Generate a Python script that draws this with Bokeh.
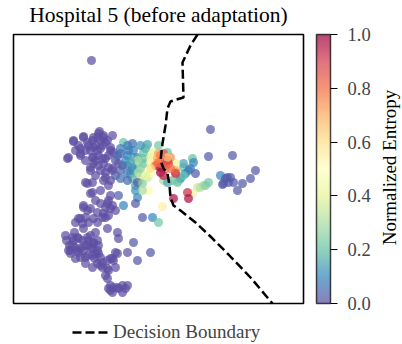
import numpy as np
from bokeh.plotting import figure
from bokeh.models import (Range1d, ColumnDataSource, LinearColorMapper, ColorBar, BoxAnnotation,
                          FixedTicker, PrintfTickFormatter, Label, Legend, LegendItem)
from bokeh.embed import file_html
from bokeh.resources import INLINE

SERIF = "Liberation Serif"

# ---- data (embedding coordinates, entropy) ----
upper_cluster = [
    (91, 60, 0.0),
    (99, 131, 0.0), (98, 133, 0.0), (103, 135, 0.0), (83, 136, 0.0), (93, 137, 0.0), (83, 137, 0.0), (97, 137, 0.0), (103, 137, 0.0),
    (73, 140, 0.0), (92, 140, 0.0), (107, 140, 0.0), (100, 140, 0.0), (73, 141, 0.0), (87, 142, 0.0), (105, 142, 0.0),
    (78, 145, 0.0), (88, 145, 0.0), (95, 145, 0.0), (102, 145, 0.0), (93, 147, 0.0), (80, 148, 0.0), (100, 148, 0.0), (110, 147, 0.0),
    (90, 150, 0.0), (97, 150, 0.0), (110, 150, 0.0), (113, 152, 0.0), (80, 153, 0.0), (120, 153, 0.02),
    (67, 158, 0.0), (68, 157, 0.0), (80, 155, 0.0), (92, 157, 0.0), (98, 155, 0.0), (93, 157, 0.0), (102, 158, 0.0), (105, 158, 0.0),
    (90, 167, 0.0), (98, 165, 0.0), (108, 167, 0.0), (118, 163, 0.02), (122, 165, 0.03), (93, 163, 0.0), (103, 163, 0.0),
    (90, 170, 0.0), (105, 172, 0.0), (112, 170, 0.0), (120, 170, 0.03), (112, 168, 0.0), (127, 165, 0.05),
    (85, 182, 0.0), (92, 182, 0.0), (103, 180, 0.0), (110, 180, 0.0), (108, 185, 0.0), (105, 177, 0.0), (87, 183, 0.0),
    (92, 192, 0.0), (90, 193, 0.0), (110, 195, 0.0), (118, 195, 0.03), (108, 200, 0.0), (100, 203, 0.0), (105, 207, 0.0), (112, 205, 0.0),
    (83, 207, 0.0), (90, 208, 0.0), (107, 203, 0.0), (83, 205, 0.0), (87, 210, 0.0), (103, 213, 0.0), (110, 208, 0.0),
    (78, 218, 0.0), (85, 217, 0.0), (93, 218, 0.0), (102, 217, 0.0), (108, 215, 0.0), (75, 222, 0.0), (80, 218, 0.0), (88, 222, 0.0), (97, 222, 0.0),
    (83, 228, 0.0), (107, 228, 0.0), (117, 232, 0.0), (118, 238, 0.0), (82, 223, 0.0), (105, 217, 0.0),
    (75, 150, 0.0), (85, 150, 0.0), (95, 160, 0.0), (85, 160, 0.0), (100, 170, 0.0), (95, 175, 0.0), (115, 160, 0.01),
    (115, 175, 0.02), (100, 190, 0.0), (95, 200, 0.0), (115, 210, 0.0), (97, 212, 0.0), (112, 135, 0.0), (108, 155, 0.0),
]

lower_cluster = [
    (72, 237, 0.0), (77, 237, 0.0), (82, 240, 0.0), (90, 235, 0.0), (97, 240, 0.0), (87, 245, 0.0), (93, 243, 0.0), (68, 250, 0.0), (75, 247, 0.0), (80, 248, 0.0),
    (92, 248, 0.0), (98, 245, 0.0), (70, 253, 0.0), (80, 257, 0.0), (87, 255, 0.0), (95, 253, 0.0), (100, 257, 0.0), (115, 252, 0.0), (127, 252, 0.0), (107, 260, 0.0),
    (85, 263, 0.0), (92, 267, 0.0), (100, 265, 0.0), (110, 258, 0.0), (113, 260, 0.0), (107, 268, 0.0), (115, 267, 0.0), (105, 275, 0.0), (107, 278, 0.0),
    (110, 285, 0.0), (117, 287, 0.0), (122, 285, 0.0), (127, 285, 0.0), (110, 290, 0.0), (118, 288, 0.0), (125, 288, 0.0), (73, 240, 0.0), (78, 238, 0.0),
    (87, 237, 0.0), (93, 242, 0.0), (70, 250, 0.0), (77, 250, 0.0), (83, 250, 0.0), (90, 247, 0.0), (75, 258, 0.0), (85, 257, 0.0), (92, 255, 0.0), (98, 253, 0.0),
    (112, 258, 0.0), (117, 253, 0.0), (97, 263, 0.0), (102, 267, 0.0), (108, 270, 0.0), (112, 292, 0.0), (122, 292, 0.0), (113, 287, 0.0), (108, 288, 0.0),
    (133, 242, 0.02), (137, 260, 0.02), (150, 252, 0.02), (69, 245, 0.0), (66, 240, 0.0), (74, 232, 0.0), (95, 232, 0.0),
    (65, 235, 0.0), (72, 245, 0.0), (78, 252, 0.0), (84, 245, 0.0), (88, 240, 0.0), (94, 258, 0.0), (102, 262, 0.0), (97, 250, 0.0),
]

right_group = [
    (210, 129, 0.02), (208, 156, 0.02), (232, 155, 0.02), (220, 175, 0.1), (225, 178, 0.02), (230, 177, 0.02), (223, 183, 0.02),
    (228, 182, 0.02), (233, 182, 0.02), (242, 183, 0.02), (250, 178, 0.02), (255, 170, 0.02), (237, 190, 0.02), (222, 184, 0.02), (227, 177, 0.02),
]

mixed_zone = [
    (123, 142, 0.2), (132, 143, 0.05), (127, 145, 0.08), (147, 144, 0.15), (158, 145, 0.22), (117, 155, 0.05), (127, 155, 0.1),
    (133, 157, 0.15), (137, 157, 0.12), (143, 158, 0.2), (150, 157, 0.38), (155, 155, 0.45), (120, 148, 0.08), (133, 150, 0.1),
    (143, 152, 0.2), (152, 152, 0.42), (137, 163, 0.22), (132, 167, 0.1), (130, 173, 0.15), (137, 173, 0.28), (133, 170, 0.12),
    (127, 173, 0.08), (120, 178, 0.06), (132, 178, 0.18), (140, 180, 0.35), (127, 180, 0.05), (135, 185, 0.15), (137, 182, 0.02),
    (142, 183, 0.25), (138, 172, 0.32), (147, 170, 0.5), (147, 177, 0.35), (152, 173, 0.48), (148, 190, 0.52), (143, 163, 0.2),
    (137, 160, 0.3), (137, 197, 0.1), (135, 203, 0.02), (123, 205, 0.1), (142, 217, 0.02), (152, 217, 0.1), (158, 222, 0.22),
    (167, 152, 0.2), (163, 180, 0.3), (167, 182, 0.15), (172, 180, 0.2), (178, 180, 0.3), (183, 167, 0.2), (188, 170, 0.08),
    (195, 173, 0.02), (185, 173, 0.1), (180, 178, 0.1), (177, 182, 0.2), (183, 175, 0.2), (192, 158, 0.2), (193, 162, 0.1),
    (183, 163, 0.15), (190, 168, 0.08), (197, 187, 0.35), (200, 187, 0.32), (203, 185, 0.3), (205, 185, 0.25), (208, 182, 0.22),
    (192, 193, 0.55), (162, 206, 0.55), (175, 163, 0.42),
    (128, 150, 0.08), (125, 160, 0.1), (130, 162, 0.15), (140, 168, 0.25), (145, 175, 0.4), (150, 162, 0.45), (153, 160, 0.55),
    (145, 148, 0.18), (140, 145, 0.12), (135, 190, 0.12), (142, 190, 0.3),
]

high_entropy = [
    (157, 165, 0.75), (158, 153, 0.72), (163, 153, 0.85), (170, 157, 0.75), (167, 160, 0.9), (162, 160, 0.92), (157, 158, 0.7),
    (155, 165, 0.82), (160, 167, 0.95), (165, 168, 0.75), (175, 172, 0.88), (168, 163, 0.9), (167, 157, 0.65), (150, 168, 0.6),
    (158, 162, 0.8), (173, 198, 0.97), (187, 192, 0.92), (188, 198, 0.97), (175, 170, 0.7), (175, 173, 0.9), (160, 172, 1.0), (163, 175, 0.95),
    (165, 165, 0.85), (170, 168, 0.8), (160, 155, 0.78),
]

boundary_x = [197, 190, 182, 183, 176, 170, 167, 165, 162, 160, 163, 167, 169, 170, 173, 180, 195, 210, 228, 250, 272]
boundary_y = [34, 45, 62, 97, 99, 101, 108, 125, 143, 160, 168, 173, 185, 197, 205, 210, 222, 236, 254, 277, 303]

# embedding-space box shown by the axes frame
box_left, box_right, box_top, box_bottom = 13, 303, 34, 303

cbar_ticks = [0.0, 0.2, 0.4, 0.6, 0.8, 1.0]
spectral_r = ["#5e4fa2", "#3288bd", "#66c2a5", "#abdda4", "#e6f598", "#ffffbf",
              "#fee08b", "#fdae61", "#f46d43", "#d53e4f", "#9e0142"]

# ---- palette (linear interpolation, as matplotlib) ----
def build_palette(stops, n=256):
    rgb = np.array([[int(c[i:i + 2], 16) for i in (1, 3, 5)] for c in stops], dtype=float)
    pos = np.linspace(0, 1, len(stops))
    t = np.linspace(0, 1, n)
    out = np.stack([np.interp(t, pos, rgb[:, k]) for k in range(3)], axis=1)
    return ["#%02x%02x%02x" % tuple(int(round(v)) for v in row) for row in out]

palette = build_palette(spectral_r)
mapper = LinearColorMapper(palette=palette, low=0.0, high=1.0)

pts = upper_cluster + lower_cluster + right_group + mixed_zone + high_entropy
src = ColumnDataSource(dict(x=[q[0] for q in pts], y=[q[1] for q in pts], e=[q[2] for q in pts]))

W, H = 402, 344
p = figure(width=W, height=H, output_backend="svg", toolbar_location=None,
           x_range=Range1d(0, W), y_range=Range1d(H, 0),
           min_border=0)
p.xaxis.visible = False
p.yaxis.visible = False
p.grid.visible = False
p.outline_line_color = None
p.background_fill_color = "white"
p.border_fill_color = "white"

p.add_layout(BoxAnnotation(left=box_left, right=box_right, top=box_top, bottom=box_bottom,
                           fill_alpha=0, line_color="black", line_alpha=1.0, line_width=1.6,
                           level="overlay"))

p.scatter("x", "y", source=src, size=9, fill_color={"field": "e", "transform": mapper},
          fill_alpha=0.72, line_color=None)

bl = p.line(boundary_x, boundary_y, line_color="black", line_width=2.5, line_dash="9 4")

legend = Legend(items=[LegendItem(label="Decision Boundary", renderers=[bl])],
                location=(72, 1), orientation="horizontal",
                label_text_font=SERIF, label_text_font_size="19px",
                glyph_width=36, glyph_height=20, label_height=20, label_standoff=5, padding=0, margin=0,
                border_line_alpha=0, background_fill_alpha=0)
p.add_layout(legend, "center")

cb = ColorBar(color_mapper=mapper, location=(316, H - box_bottom), width=14, height=box_bottom - box_top,
              padding=0, margin=0, scale_alpha=0.72,
              ticker=FixedTicker(ticks=cbar_ticks), formatter=PrintfTickFormatter(format="%.1f"),
              major_tick_in=0, major_tick_out=7, major_tick_line_color="black", major_tick_line_width=1.2,
              minor_tick_line_color=None, label_standoff=10,
              major_label_text_font=SERIF, major_label_text_font_size="18.5px",
              bar_line_color="black", bar_line_width=1.5,
              background_fill_alpha=0, border_line_alpha=0)
p.add_layout(cb, "center")

title = Label(x=158, y=14, text="Hospital 5 (before adaptation)", text_align="center",
              text_baseline="alphabetic", text_font=SERIF, text_font_size="21.5px", text_color="black")
p.add_layout(title)

cb_label = Label(x=389, y=167, angle=90, angle_units="deg",
                 text="Normalized Entropy", text_align="center", text_baseline="middle",
                 text_font=SERIF, text_font_size="19px", text_color="black")
p.add_layout(cb_label)

open("out.html", "w").write(file_html(p, INLINE))
